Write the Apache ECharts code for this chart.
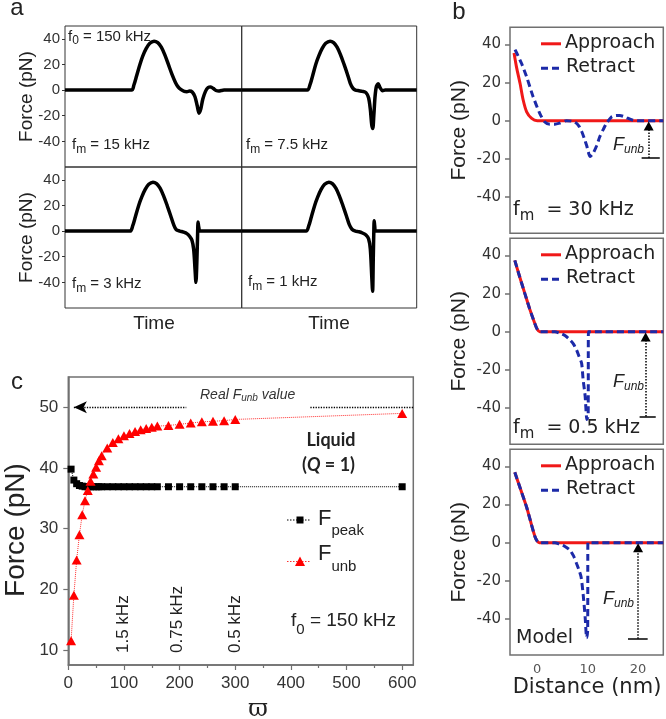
<!DOCTYPE html>
<html><head><meta charset="utf-8">
<script src="https://cdn.jsdelivr.net/npm/echarts@6/dist/echarts.min.js"></script>
<style>html,body{margin:0;padding:0;background:#fff}#c{width:666px;height:719px}</style>
</head><body><div id="c"></div>
<script>
// ---------- Panel a : force vs time (time in arbitrary units 0-100) ----------
const aTicks = [-40, -20, 0, 20, 40];
const aF15 = [[0,0],[37.7,0],[39,4],[40.5,11],[42.4,20],[44,26.5],[46,32.5],[48,36.5],[50.4,38.2],[52.5,37],[54.5,33.5],[56.5,27.5],[58.5,20],[60.5,12.5],[62.5,6],[64,2.5],[65.5,0.5],[67.5,-1],[69,-1.2],[70.5,-0.8],[72,-1.5],[73.5,-5],[74.8,-12],[75.8,-18],[76.8,-15],[78,-7],[79.5,-1],[81,2],[82.5,2.5],[84,1.2],[85.5,-0.3],[87,-0.8],[88.5,-0.3],[90,0],[100,0]];
const aF75 = [[0,0],[37.5,0],[39,4],[40.5,11],[42.3,20],[44,26.5],[46,32.5],[48,36.5],[50.5,38.2],[52.5,37],[54.5,33.5],[56.5,27.5],[58.5,20],[60.5,12],[62,5.5],[63.5,1.5],[65,0],[67,-0.5],[69,-1],[71,-2],[72.5,-6],[73.5,-15],[74.3,-27],[74.9,-30],[75.5,-20],[76.2,-5],[77,3],[78,5],[79,2],[80.5,-0.5],[82,0],[100,0]];
const aF3 = [[0,0],[36.8,0],[38.3,4],[39.8,11],[41.7,20],[43.4,26.5],[45.4,32.5],[47.4,36.5],[49.8,38.2],[51.8,37],[53.8,33.5],[55.8,27.5],[57.8,20],[59.8,12],[61.5,5],[63,1],[65,0],[67,-0.8],[69,-2],[70.5,-4],[71.8,-7],[72.8,-14],[73.6,-30],[74.1,-40],[74.6,-25],[75,-5],[75.3,7],[75.7,3],[76.5,0],[100,0]];
const aF1 = [[0,0],[36.8,0],[38.3,4],[39.8,11],[41.7,20],[43.4,26.5],[45.4,32.5],[47.4,36.5],[49.8,38.2],[51.8,37],[53.8,33.5],[55.8,27.5],[57.8,20],[59.8,12],[61.5,5],[63,1.5],[65,0],[67,-0.5],[69,-1.5],[71,-3],[72.5,-6],[73.5,-14],[74.3,-35],[74.8,-47],[75.2,-20],[75.5,0],[75.7,8],[76,4],[76.5,0],[100,0]];

// ---------- Panel b : force vs distance ----------
const bTicks = [-40, -20, 0, 20, 40];
const bXTicks = [0, 10, 20];
const bApp30 = [[-4.6,35.5],[-4.1,28],[-3.4,19.5],[-2.8,11],[-2.1,4.7],[-1.1,1.2],[0,0],[25,0]];
const bRet30 = [[-4.4,37.3],[-3.8,34],[-3.1,30],[-2.1,23],[-0.8,12.5],[0.5,3.9],[1.5,-0.6],[2.5,-1.8],[3.5,-1.8],[4.5,-1.2],[5.8,0],[6.8,-0.2],[7.5,-0.8],[8.2,-2.5],[8.8,-5.5],[9.3,-9],[9.8,-13],[10.5,-18.7],[11.1,-17],[11.8,-13],[12.4,-8.4],[13.1,-4.5],[13.7,-1.5],[14.7,1.9],[15.5,2.7],[16.4,2.8],[17.1,2.3],[17.7,1.6],[18.7,0.5],[19.7,0],[25,0]];
const bApp05 = [[-4.45,37.4],[-3.5,29],[-2.45,20],[-1.5,12],[-0.5,4.5],[0,1.3],[0.5,0],[25,0]];
const bRet05 = [[-4.45,37.4],[-3.5,29],[-2.45,20],[-1.5,12],[-0.5,4.5],[0,1.3],[0.5,0],[3.5,0],[4.5,-0.8],[5.5,-2],[6.5,-4.3],[7.2,-6.5],[7.8,-9.6],[8.3,-13],[8.8,-16.5],[9.1,-25],[9.5,-33.7],[9.85,-46],[10.1,-44],[10.15,0],[25,0]];
const bAppM = [[-4.45,36.9],[-3.3,28],[-2.1,18.6],[-1.2,10],[-0.46,3.2],[0,0.8],[0.4,0],[25,0]];
const bRetM = [[-4.45,36.9],[-3.3,28],[-2.1,18.6],[-1.2,10],[-0.46,3.2],[0,0.8],[0.4,0],[3.5,0],[4.5,-0.9],[5.5,-2],[6.5,-4],[7.2,-7],[7.8,-11],[8.3,-14.5],[8.7,-18],[9.1,-27],[9.5,-39],[9.8,-50],[10,-46],[10.05,0],[25,0]];
// F_unb arrows: x position, bottom value, bar extent
const bUnb = [{x:22.1, y:-19.5, bar:[20.7,24.3]}, {x:21.5, y:-44.4, bar:[20.3,23.5]}, {x:20.0, y:-50.5, bar:[18,21.9]}];

// ---------- Panel c : force vs omega ----------
const cXTicks = [0, 100, 200, 300, 400, 500, 600];
const cXMinor = [50, 150, 250, 350, 450, 550];
const cYTicks = [10, 20, 30, 40, 50];
const cOmega = [5,10,15,20,25,30,35,40,45,50,55,60,70,80,90,100,110,120,130,140,150,160,180,200,220,240,260,280,300,600];
const cFunb  = [11.5,19,24.8,29,32.3,34.6,36.3,37.8,39,40.1,41.2,42,43.3,44.2,44.8,45.3,45.7,46,46.3,46.5,46.7,46.9,47,47.2,47.4,47.6,47.7,47.8,48,49];
const cFpeak = [39.8,38.0,37.4,37.1,37.0,36.9,36.9,36.9,36.9,36.9,36.9,36.9,36.9,36.9,36.9,36.9,36.9,36.9,36.9,36.9,36.9,36.9,36.9,36.9,36.9,36.9,36.9,36.9,36.9,36.9];
const cRealUnb = 50;

// ---------- fonts / helpers ----------
const FA = '"Liberation Sans", Arial, sans-serif';
const FD = '"DejaVu Sans", sans-serif';
const FL = 'Lato, "Open Sans", sans-serif';
const FS = '"DejaVu Serif", "Liberation Serif", serif';
const mctx = document.createElement('canvas').getContext('2d');
function fstr(p){ return (p.style||'normal')+' '+(p.weight||'normal')+' '+p.size+'px '+p.family; }
function segText(x, y, parts, base){
  const out=[]; let cx=x;
  parts.forEach(p0=>{
    const p=Object.assign({}, base, p0);
    const f=fstr(p); mctx.font=f; const w=mctx.measureText(p.t).width;
    out.push({type:'text', x:cx, y:y+(p.dy||0), silent:true, z:100,
      style:{text:p.t, font:f, fill:p.fill||'#222', align:'left', verticalAlign:'middle'}});
    cx+=w+(p.gap||0);
  });
  return out;
}
function txt(x,y,t,size,family,o){
  o=o||{};
  return {type:'text', x:x, y:y, rotation:o.rot||0, silent:true, z:100,
    style:{text:t, font:fstr({size:size,family:family,style:o.style,weight:o.weight}), fill:o.fill||'#222',
      align:o.align||'center', verticalAlign:'middle'}};
}
function hline(x1,x2,y,color,w,dash){
  return {type:'line', silent:true, z:100, shape:{x1:x1,y1:y,x2:x2,y2:y}, style:{stroke:color, lineWidth:w, lineDash:dash||null}};
}

// ---------- grids ----------
const grids = [
  {left:65, top:26, width:176.7, height:141},
  {left:241.7, top:26, width:175, height:141},
  {left:65, top:167, width:176.7, height:141},
  {left:241.7, top:167, width:175, height:141},
  {left:510, top:27.3, width:153.3, height:206},
  {left:510, top:238.3, width:153.3, height:206},
  {left:510, top:449.3, width:153.3, height:205.7},
  {left:68.3, top:377, width:345, height:288}
].map((g,i)=>Object.assign({show:true, containLabel:false, backgroundColor:'transparent',
   borderColor: i<4 ? '#333' : '#707070', borderWidth: i<4 ? 1 : 1.5}, g));

const xAxes=[], yAxes=[];
for(let i=0;i<4;i++){
  xAxes.push({gridIndex:i, type:'value', min:0, max:100, show:false});
  const lab = (i%2===0);
  yAxes.push({gridIndex:i, type:'value', min:-60, max:50, position:'left',
    axisLine:{show:false, onZero:false}, splitLine:{show:false},
    axisTick:{show:lab, inside:false, length:3, customValues:aTicks, lineStyle:{color:'#333'}},
    axisLabel:{show:lab, customValues:aTicks, margin:5, fontFamily:FA, fontSize:15, color:'#333'}});
}
for(let i=4;i<7;i++){
  const last = (i===6);
  xAxes.push({gridIndex:i, type:'value', min:-5.4, max:25, position:'bottom',
    axisLine:{show:false, onZero:false}, splitLine:{show:false}, axisTick:{show:false},
    axisLabel:{show:last, customValues:bXTicks, margin:8, fontFamily:FD, fontSize:13, color:'#555'}});
  yAxes.push({gridIndex:i, type:'value', min:-59, max:49, position:'left',
    axisLine:{show:false, onZero:false}, splitLine:{show:false},
    axisTick:{show:true, inside:false, length:5, customValues:bTicks, lineStyle:{color:'#707070', width:1.5}},
    axisLabel:{customValues:bTicks, margin:9, fontFamily:FD, fontSize:15, color:'#333'}});
}
xAxes.push({gridIndex:7, type:'value', min:0, max:620, position:'bottom',
  axisLine:{show:true, onZero:false, lineStyle:{color:'#707070', width:1.5}}, splitLine:{show:false},
  axisTick:{show:true, inside:false, length:5, customValues:cXTicks, lineStyle:{color:'#707070', width:1.2}},
  axisLabel:{customValues:cXTicks, margin:10, fontFamily:FA, fontSize:17, color:'#333'}});
xAxes.push({gridIndex:7, type:'value', min:0, max:620, position:'bottom',
  axisLine:{show:false, onZero:false}, splitLine:{show:false}, axisLabel:{show:false},
  axisTick:{show:true, inside:false, length:3, customValues:cXMinor, lineStyle:{color:'#707070', width:1.2}}});
yAxes.push({gridIndex:7, type:'value', min:7.5, max:55, position:'left',
  axisLine:{show:true, onZero:false, lineStyle:{color:'#707070', width:1.5}}, splitLine:{show:false},
  axisTick:{show:true, inside:false, length:5, customValues:cYTicks, lineStyle:{color:'#707070', width:1.2}},
  axisLabel:{customValues:cYTicks, margin:10, fontFamily:FA, fontSize:17, color:'#333'}});

// ---------- series ----------
const series=[];
[aF15, aF75, aF3, aF1].forEach((d,i)=>{
  series.push({type:'line', xAxisIndex:i, yAxisIndex:i, data:d, showSymbol:false, smooth:0.3,
    lineStyle:{color:'#000', width:3.5}, silent:true});
});
const RED='#f01818', BLUE='#1c2aa8';
[[bApp30,bRet30],[bApp05,bRet05],[bAppM,bRetM]].forEach((pr,k)=>{
  const ix=4+k, u=bUnb[k];
  series.push({type:'line', xAxisIndex:ix, yAxisIndex:ix, data:pr[0], showSymbol:false, smooth:0.25,
    lineStyle:{color:RED, width:3}, silent:true, z:2,
    markLine:{silent:true, animation:false, label:{show:false}, symbol:['none','none'],
      data:[
        [{coord:[u.x,u.y], symbol:'none', lineStyle:{type:'dotted', color:'#000', width:1.5}},
         {coord:[u.x,-2.7], symbol:'triangle', symbolSize:[10,9]}],
        [{coord:[u.bar[0],u.y], symbol:'none', lineStyle:{type:'solid', color:'#000', width:1.5}},
         {coord:[u.bar[1],u.y], symbol:'none'}]
      ]}});
  series.push({type:'line', xAxisIndex:ix, yAxisIndex:ix, data:pr[1], showSymbol:false, smooth:0.25,
    lineStyle:{color:BLUE, width:3, type:[7,4]}, silent:true, z:3});
});
series.push({type:'line', xAxisIndex:7, yAxisIndex:7, data:cOmega.map((w,i)=>[w,cFpeak[i]]),
  symbol:'rect', symbolSize:7, itemStyle:{color:'#000'}, lineStyle:{color:'#000', width:1, type:'dotted'}, silent:true,
  markLine:{silent:true, animation:false, label:{show:false}, symbol:['none','none'],
    lineStyle:{type:'dotted', color:'#000', width:1.3},
    data:[
      [{coord:[10,cRealUnb], symbol:'arrow', symbolSize:[9,13]},{coord:[212,cRealUnb], symbol:'none'}],
      [{coord:[435,cRealUnb], symbol:'none'},{coord:[620,cRealUnb], symbol:'none'}]
    ]}});
series.push({type:'line', xAxisIndex:7, yAxisIndex:7, data:cOmega.map((w,i)=>[w,cFunb[i]]),
  symbol:'triangle', symbolSize:[10,9], itemStyle:{color:'#ff0000'}, lineStyle:{color:'#ff3030', width:1, type:'dotted'}, silent:true});

// ---------- text / annotations ----------
let G=[];
G.push(txt(17,8,'a',24,FA));
G.push(txt(459,12,'b',24,FA));
G.push(txt(17,382,'c',24,FA));
// panel a
G.push(txt(27,96.5,'Force (pN)',19,FA,{rot:Math.PI/2}));
G.push(txt(27,237.5,'Force (pN)',19,FA,{rot:Math.PI/2}));
G.push(txt(154,324,'Time',19,FA));
G.push(txt(329,324,'Time',19,FA));
const aBase={size:15, family:FA};
G=G.concat(segText(68,37,[{t:'f'},{t:'0',size:12,dy:4},{t:' = 150 kHz'}],aBase));
G=G.concat(segText(72,145,[{t:'f'},{t:'m',size:12,dy:5},{t:' = 15 kHz'}],aBase));
G=G.concat(segText(246,145,[{t:'f'},{t:'m',size:12,dy:5},{t:' = 7.5 kHz'}],aBase));
G=G.concat(segText(72,284,[{t:'f'},{t:'m',size:12,dy:5},{t:' = 3 kHz'}],aBase));
G=G.concat(segText(248,282,[{t:'f'},{t:'m',size:12,dy:5},{t:' = 1 kHz'}],aBase));
// panel b
const bTops=[27.3,238.3,449.3];
bTops.forEach((t,k)=>{
  G.push(txt(459,t+103,'Force (pN)',21,FA,{rot:Math.PI/2}));
  G.push(hline(541,561,t+16.5,RED,3));
  G.push(hline(541,561,t+41,BLUE,3,[7,4]));
  G.push(txt(565,t+16,'Approach',19,FD,{align:'left'}));
  G.push(txt(566,t+40,'Retract',19,FD,{align:'left'}));
});
const bBase={size:19, family:FD};
G=G.concat(segText(513,210,[{t:'f'},{t:'m',size:15,dy:6},{t:'  = 30 kHz'}],bBase));
G=G.concat(segText(513,428,[{t:'f'},{t:'m',size:15,dy:6},{t:'  = 0.5 kHz'}],bBase));
G.push(txt(516,638,'Model',19,FD,{align:'left'}));
const uBase={size:18, family:FA, style:'italic'};
G=G.concat(segText(613,145,[{t:'F'},{t:'unb',size:12,dy:5}],uBase));
G=G.concat(segText(613,382,[{t:'F'},{t:'unb',size:12,dy:5}],uBase));
G=G.concat(segText(603,599,[{t:'F'},{t:'unb',size:12,dy:5}],uBase));
G.push(txt(587,688,'Distance (nm)',21,FD));
// panel c
G.push(txt(16,530,'Force (pN)',28,FA,{rot:Math.PI/2}));
G.push(txt(258,710,'\u03D6',24,FS));
G=G.concat(segText(200,395,[{t:'Real '},{t:'F'},{t:'unb',size:10,dy:3},{t:' value'}],{size:14,family:FA,style:'italic',fill:'#333'}));
G.push(txt(331,440,'Liquid',18,FL,{weight:'bold'}));
G=G.concat(segText(302,465,[{t:'('},{t:'Q',style:'italic'},{t:' = 1)'}],{size:18,family:FL,weight:'bold'}));
G.push(hline(287,311,520,'#000',1,[1.5,1.5]));
G.push({type:'rect', silent:true, z:100, shape:{x:296.5,y:516.5,width:7,height:7}, style:{fill:'#000'}});
G.push(hline(287,311,561.5,'#ff3030',1,[1.5,1.5]));
G.push({type:'polygon', silent:true, z:100, shape:{points:[[300,556.5],[305,566],[295,566]]}, style:{fill:'#ff0000'}});
G=G.concat(segText(318,519,[{t:'F'},{t:'peak',size:15,dy:12}],{size:22,family:FA}));
G=G.concat(segText(318,554,[{t:'F'},{t:'unb',size:15,dy:13}],{size:22,family:FA}));
G=G.concat(segText(291,621,[{t:'f'},{t:'0',size:15,dy:9},{t:' = 150 kHz'}],{size:19,family:FA}));
G.push(txt(123.3,653,'1.5 kHz',17,FA,{rot:Math.PI/2, align:'left'}));
G.push(txt(177.5,653,'0.75 kHz',17,FA,{rot:Math.PI/2, align:'left'}));
G.push(txt(235,653,'0.5 kHz',17,FA,{rot:Math.PI/2, align:'left'}));

const chart = echarts.init(document.getElementById('c'), null, {renderer:'canvas', width:666, height:719});
chart.setOption({animation:false, backgroundColor:'#fff', grid:grids, xAxis:xAxes, yAxis:yAxes, series:series, graphic:G});
</script></body></html>
